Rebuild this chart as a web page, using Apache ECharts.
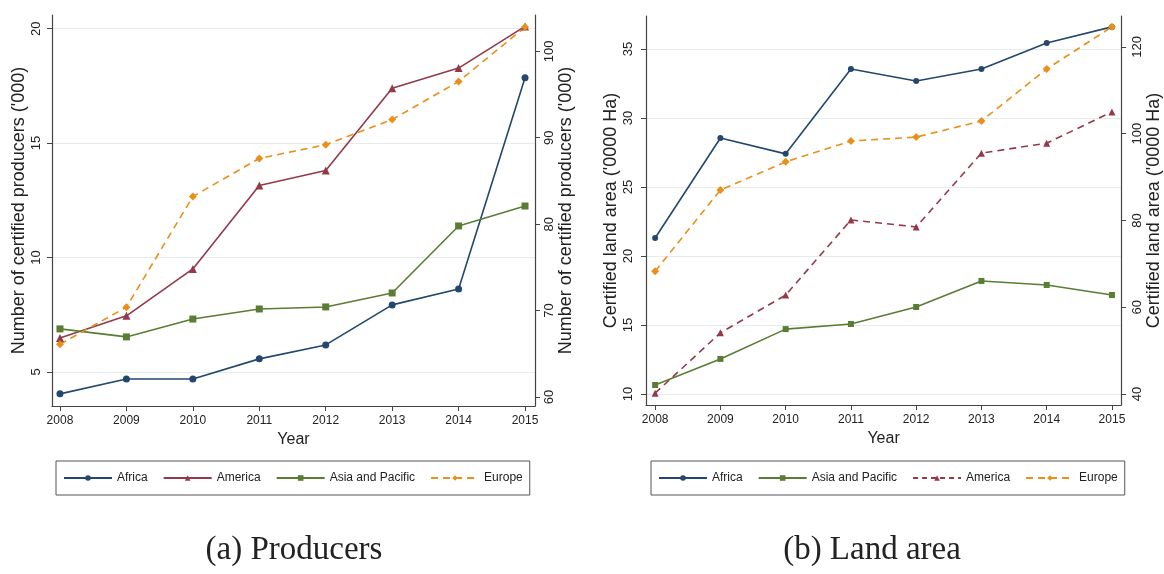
<!DOCTYPE html>
<html>
<head>
<meta charset="utf-8">
<script src="https://cdn.jsdelivr.net/npm/echarts@6/dist/echarts.min.js"></script>
<style>
html, body { margin: 0; padding: 0; background: #fff; }
#chart { width: 1164px; height: 574px; }
</style>
</head>
<body>
<div id="chart"></div>
<script>
var years = [2008, 2009, 2010, 2011, 2012, 2013, 2014, 2015];

// (a) certified producers ('000) - Europe is read on the right axis
var prodAfrica  = [4.04, 4.69, 4.69, 5.57, 6.18, 7.93, 8.62, 17.86];
var prodAmerica = [6.48, 7.45, 9.50, 13.15, 13.80, 17.40, 18.28, 20.10];
var prodAsia    = [6.88, 6.53, 7.31, 7.75, 7.84, 8.45, 11.38, 12.25];
var prodEurope  = [66.1, 70.4, 83.2, 87.6, 89.2, 92.1, 96.5, 102.8];

// (b) certified land area ('0000 Ha) - America and Europe on the right axis
var landAfrica  = [21.30, 28.55, 27.40, 33.55, 32.68, 33.55, 35.43, 36.60];
var landAsia    = [10.65, 12.54, 14.70, 15.07, 16.30, 18.19, 17.90, 17.17];
var landAmerica = [40.2, 54.1, 62.8, 80.1, 78.5, 95.5, 97.8, 105.0];
var landEurope  = [68.3, 87.0, 93.5, 98.3, 99.2, 102.9, 114.9, 124.6];

var prodLeftTicks  = [5, 10, 15, 20];
var prodRightTicks = [60, 70, 80, 90, 100];
var landLeftTicks  = [10, 15, 20, 25, 30, 35];
var landRightTicks = [40, 60, 80, 100, 120];

var FONT = "'Liberation Sans', Arial, sans-serif";
var AXIS_COLOR = '#444';
var colors = { Africa: '#23476d', America: '#93394a', Asia: '#5a7d34', Europe: '#e8901a' };

function pairs(vals) {
    return years.map(function (y, i) { return [y, vals[i]]; });
}
function plain(v) { return String(v); }

function xAxisCfg(grid, min, max) {
    return {
        type: 'value', gridIndex: grid, min: min, max: max,
        name: 'Year', nameLocation: 'middle', nameGap: 26,
        nameTextStyle: { fontFamily: FONT, fontSize: 16, color: '#222' },
        axisLine: { show: true, lineStyle: { color: AXIS_COLOR, width: 1.2 } },
        axisTick: { show: true, length: 5, customValues: years, lineStyle: { color: AXIS_COLOR } },
        axisLabel: { customValues: years, formatter: plain, margin: 9, fontFamily: FONT, fontSize: 12, color: '#222' },
        splitLine: { show: false }
    };
}

function yAxisCfg(grid, pos, min, max, ticks, title, nameGap, margin, split) {
    return {
        type: 'value', gridIndex: grid, position: pos, min: min, max: max,
        name: title, nameLocation: 'middle', nameRotate: 90, nameGap: nameGap,
        nameTextStyle: { fontFamily: FONT, fontSize: 18, color: '#222' },
        axisLine: { show: true, lineStyle: { color: AXIS_COLOR, width: 1.2 } },
        axisTick: { show: true, length: 5, customValues: ticks, lineStyle: { color: AXIS_COLOR } },
        axisLabel: { customValues: ticks, formatter: plain, rotate: 90, margin: margin, fontFamily: FONT, fontSize: 13, color: '#222' },
        splitLine: { show: split, lineStyle: { color: '#e6ecec', width: 1 } }
    };
}

function line(name, vals, xi, yi, symbol, size, dashed) {
    return {
        name: name, type: 'line', xAxisIndex: xi, yAxisIndex: yi,
        data: pairs(vals),
        symbol: symbol, symbolSize: size,
        itemStyle: { color: colors[name === 'Asia and Pacific' ? 'Asia' : name] },
        lineStyle: { width: 1.6, type: dashed ? [7, 5] : 'solid' },
        emphasis: { disabled: true }
    };
}

var legendText = { fontFamily: FONT, fontSize: 12, color: '#222' };

var option = {
    animation: false,
    backgroundColor: '#fff',
    grid: [
        { left: 52, top: 15, width: 483, height: 391 },
        { left: 646, top: 16, width: 482, height: 389 }
    ],
    xAxis: [
        xAxisCfg(0, 2007.88, 2015.15),
        xAxisCfg(1, 2007.86, 2015.14)
    ],
    yAxis: [
        yAxisCfg(0, 'left', 3.51, 20.6, prodLeftTicks, "Number of certified producers ('000)", 24, 9, true),
        yAxisCfg(0, 'right', 58.96, 104.2, prodRightTicks, "Number of certified producers ('000)", 19, 8, false),
        yAxisCfg(1, 'left', 9.2, 37.39, landLeftTicks, "Certified land area ('0000 Ha)", 26, 11, true),
        yAxisCfg(1, 'right', 37.47, 127.1, landRightTicks, "Certified land area ('0000 Ha)", 21, 10, false)
    ],
    legend: [
        {
            left: 56, top: 461, padding: [11, 7, 11, 7], itemGap: 15,
            itemWidth: 48, itemHeight: 7, borderColor: '#555', borderWidth: 1,
            textStyle: legendText, selectedMode: false,
            data: ['Africa', 'America', 'Asia and Pacific', 'Europe']
        },
        {
            left: 651, top: 461, padding: [11, 7, 11, 7], itemGap: 15,
            itemWidth: 48, itemHeight: 7, borderColor: '#555', borderWidth: 1,
            textStyle: legendText, selectedMode: false,
            data: ['Africa', 'Asia and Pacific', { name: 'America', lineStyle: { type: [5, 4] } }, 'Europe']
        }
    ],
    graphic: [
        { type: 'text', x: 294, y: 550, style: { text: '(a) Producers', fontFamily: "'Liberation Serif', serif", fontSize: 33, fill: '#222', align: 'center', verticalAlign: 'middle' } },
        { type: 'text', x: 872, y: 550, style: { text: '(b) Land area', fontFamily: "'Liberation Serif', serif", fontSize: 33, fill: '#222', align: 'center', verticalAlign: 'middle' } }
    ],
    series: [
        line('Africa', prodAfrica, 0, 0, 'circle', 7, false),
        line('America', prodAmerica, 0, 0, 'triangle', 8, false),
        line('Asia and Pacific', prodAsia, 0, 0, 'rect', 7, false),
        line('Europe', prodEurope, 0, 1, 'diamond', 8, true),
        line('Africa', landAfrica, 1, 2, 'circle', 6, false),
        line('Asia and Pacific', landAsia, 1, 2, 'rect', 6, false),
        line('America', landAmerica, 1, 3, 'triangle', 7, true),
        line('Europe', landEurope, 1, 3, 'diamond', 8, true)
    ]
};

var myChart = echarts.init(document.getElementById('chart'));
myChart.setOption(option);
</script>
</body>
</html>
